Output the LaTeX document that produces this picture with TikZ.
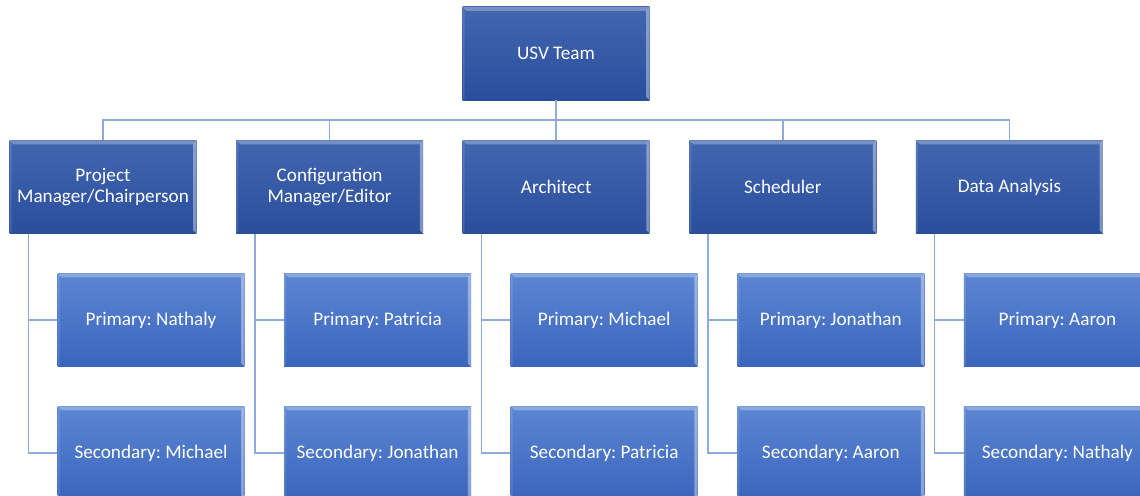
\documentclass[tikz,border=0pt]{standalone}
\usepackage{fontspec}
\setmainfont{Carlito}
\usetikzlibrary{calc}
\frenchspacing
\definecolor{darkTop}{HTML}{4266B0}
\definecolor{darkBot}{HTML}{2A4E9C}
\definecolor{liteTop}{HTML}{5C86D3}
\definecolor{liteBot}{HTML}{3A65BC}
\definecolor{wire}{HTML}{8FAADC}
\tikzset{
  bevel/.style={
    path picture={
      \fill[white,opacity=0.28]
        (path picture bounding box.north west) --
        (path picture bounding box.north east) --
        ([xshift=-3pt,yshift=-3pt]path picture bounding box.north east) --
        ([xshift=3pt,yshift=-3pt]path picture bounding box.north west) -- cycle;
      \fill[white,opacity=0.38]
        (path picture bounding box.north east) --
        (path picture bounding box.south east) --
        ([xshift=-2.5pt,yshift=2.5pt]path picture bounding box.south east) --
        ([xshift=-2.5pt,yshift=-2.5pt]path picture bounding box.north east) -- cycle;
      \fill[white,opacity=0.12]
        (path picture bounding box.north west) --
        (path picture bounding box.south west) --
        ([xshift=1.5pt,yshift=1.5pt]path picture bounding box.south west) --
        ([xshift=1.5pt,yshift=-1.5pt]path picture bounding box.north west) -- cycle;
    }},
  box/.style={rectangle, bevel, minimum width=140.25pt, minimum height=70pt,
    inner sep=0pt, align=center, text=white,
    font=\fontsize{14.4}{15.5}\selectfont},
  darkbox/.style={box, top color=darkTop, bottom color=darkBot},
  litebox/.style={box, top color=liteTop, bottom color=liteBot},
  wireline/.style={draw=wire, line width=1.1pt}
}
\begin{document}
\begin{tikzpicture}[x=0.75pt,y=-0.75pt]
\useasboundingbox (0,0) rectangle (1140,496);
\clip (0,0) rectangle (1140,496);
\fill[white] (0,0) rectangle (1140,496);

% team head
\node[darkbox] (top) at (556,53.5) {USV Team};

% roles
\node[darkbox] (p1) at (103,187)    {Project\\Manager/Chairperson};
\node[darkbox] (p2) at (329.6,187)  {Configuration\\Manager/Editor};
\node[darkbox] (p3) at (556.2,187)  {Architect};
\node[darkbox] (p4) at (782.8,187)  {Scheduler};
\node[darkbox] (p5) at (1009.4,187) {Data Analysis};

% primary and secondary members
\node[litebox] (a1) at (151,320)    {Primary: Nathaly};
\node[litebox] (b1) at (151,453)    {Secondary: Michael};
\node[litebox] (a2) at (377.6,320)  {Primary: Patricia};
\node[litebox] (b2) at (377.6,453)  {Secondary: Jonathan};
\node[litebox] (a3) at (604.2,320)  {Primary: Michael};
\node[litebox] (b3) at (604.2,453)  {Secondary: Patricia};
\node[litebox] (a4) at (830.8,320)  {Primary: Jonathan};
\node[litebox] (b4) at (830.8,453)  {Secondary: Aaron};
\node[litebox] (a5) at (1057.4,320) {Primary: Aaron};
\node[litebox] (b5) at (1057.4,453) {Secondary: Nathaly};

% bus between head and roles
\coordinate (bus) at (556,120);
\draw[wireline] (top.south) -- (bus);
\draw[wireline] (p1.north) -- (p1.north |- bus) -- (p5.north |- bus) -- (p5.north);
\foreach \p in {p2,p3,p4}
  \draw[wireline] (\p.north) -- (\p.north |- bus);

% role to member links
\foreach \i in {1,...,5} {
  \coordinate (s\i) at ($(p\i.south west)+(19,0)$);
  \draw[wireline] (s\i) |- (a\i.west);
  \draw[wireline] (s\i) |- (b\i.west);
}
\end{tikzpicture}
\end{document}
